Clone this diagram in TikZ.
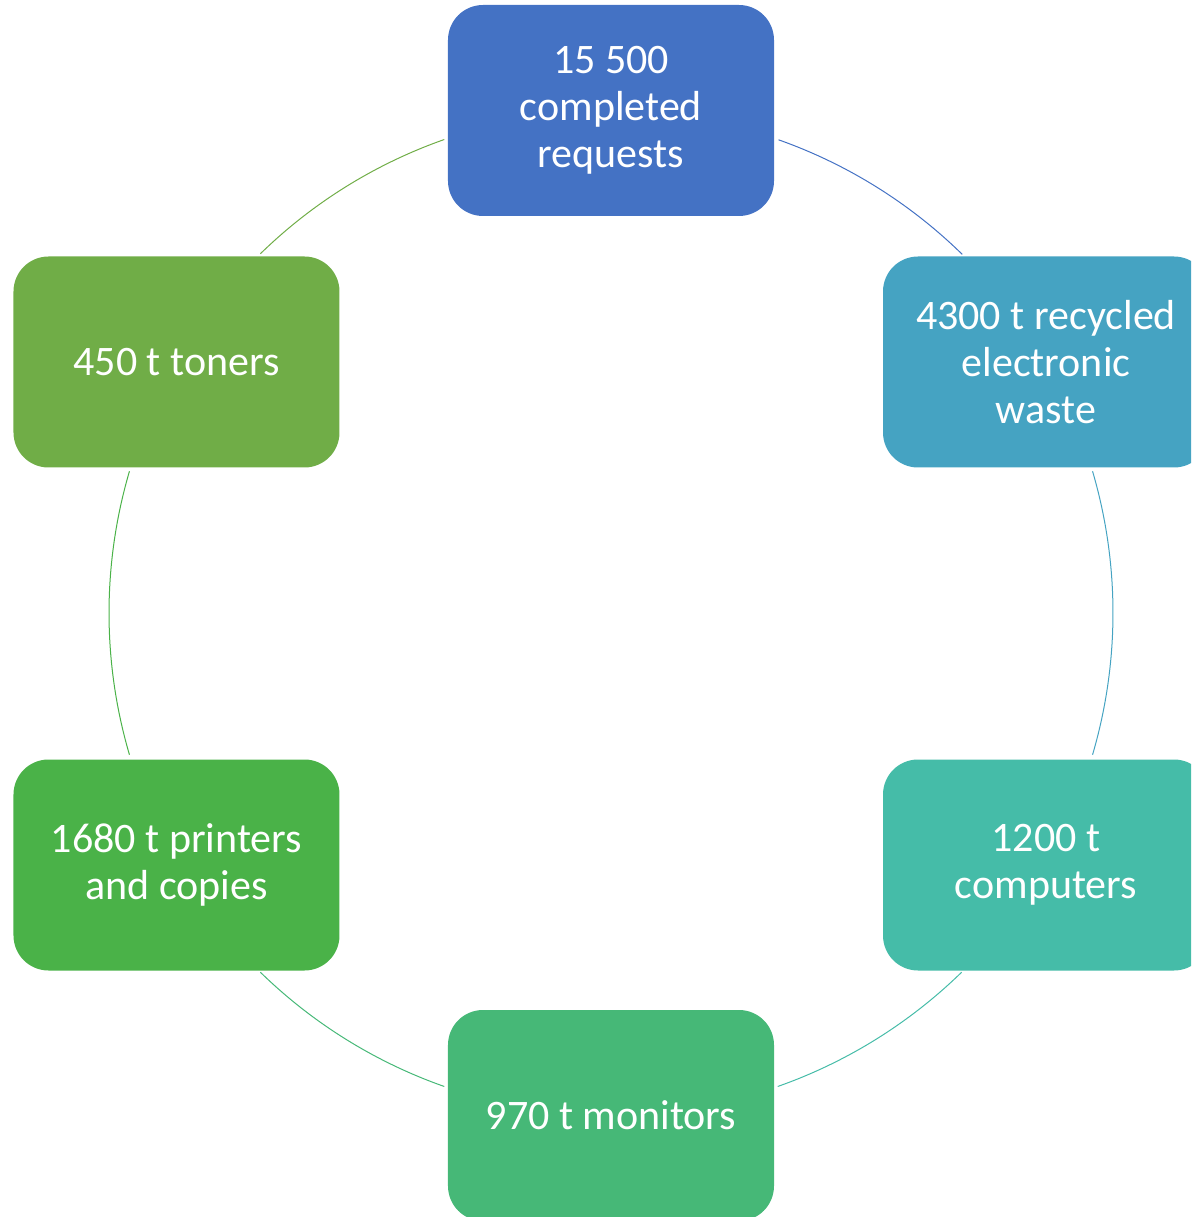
\documentclass[tikz,border=0pt]{standalone}
\usepackage{fontspec}
\setmainfont{Carlito}
\definecolor{cA}{RGB}{68,114,196}
\definecolor{cB}{RGB}{69,163,194}
\definecolor{cC}{RGB}{69,188,168}
\definecolor{cD}{RGB}{70,184,119}
\definecolor{cE}{RGB}{74,178,72}
\definecolor{cF}{RGB}{112,173,71}
\tikzset{
  cyclebox/.style={rectangle, rounded corners=35pt, minimum width=326pt, minimum height=211pt,
    inner sep=0pt, align=center, text=white, fill=#1,
    font=\fontsize{42}{47}\selectfont},
  cyclearc/.style={draw=#1, line width=1pt}
}
\begin{document}
\begin{tikzpicture}[x=1pt,y=1pt]
\useasboundingbox (-611,-604) rectangle (580,613);
\clip (-611,-604) rectangle (580,613);
\coordinate (O) at (0,0);
\node[cyclebox=cA] (top) at (0,502.5) {15 500\\completed\\requests};
\node[cyclebox=cB] (ur) at (435,251) {4300 t recycled\\electronic\\waste};
\node[cyclebox=cC] (lr) at (435,-252) {1200 t\\computers};
\node[cyclebox=cD] (bot) at (0,-502.5) {970 t monitors};
\node[cyclebox=cE] (ll) at (-434.5,-252) {1680 t printers\\and copies};
\node[cyclebox=cF] (ul) at (-434.5,251) {450 t toners};
\draw[cyclearc=cA] (O) ++(70.5:502) arc[start angle=70.5, end angle=45.6, radius=502];
\draw[cyclearc=cB] (O) ++(16.4:502) arc[start angle=16.4, end angle=-16.4, radius=502];
\draw[cyclearc=cC] (O) ++(-45.7:502) arc[start angle=-45.7, end angle=-70.6, radius=502];
\draw[cyclearc=cD] (O) ++(-109.4:502) arc[start angle=-109.4, end angle=-134.3, radius=502];
\draw[cyclearc=cE] (O) ++(196.4:502) arc[start angle=196.4, end angle=163.6, radius=502];
\draw[cyclearc=cF] (O) ++(134.3:502) arc[start angle=134.3, end angle=109.4, radius=502];
\end{tikzpicture}
\end{document}
